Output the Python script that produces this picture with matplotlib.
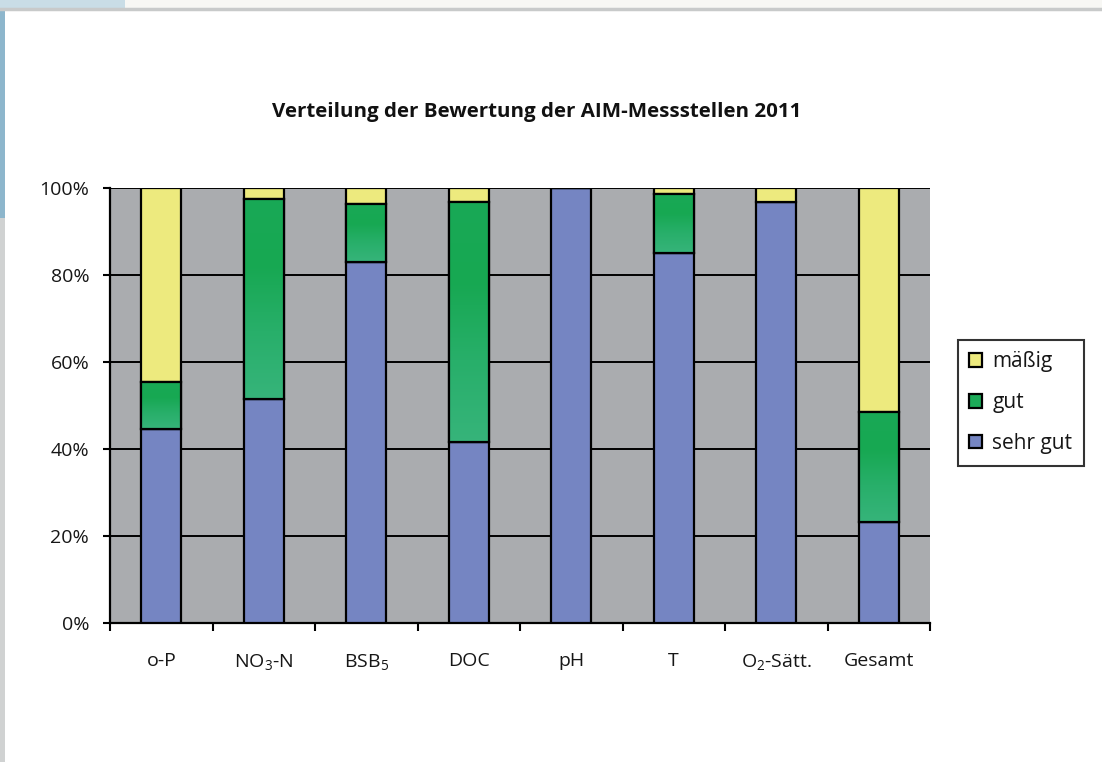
import numpy as np
import matplotlib
matplotlib.use("Agg")
import matplotlib.pyplot as plt
from matplotlib.patches import Rectangle
from matplotlib.colors import LinearSegmentedColormap

# Share of monitoring sites per rating class (percent)
categories = ["o-P", r"NO$_3$-N", r"BSB$_5$", "DOC", "pH", "T", r"O$_2$-Sätt.", "Gesamt"]
sehr_gut = [44.5, 51.5, 83.0, 41.5, 100.0, 85.0, 96.7, 23.3]
gut = [11.0, 46.0, 13.3, 55.3, 0.0, 13.7, 0.0, 25.2]
maessig = [44.5, 2.5, 3.7, 3.2, 0.0, 1.3, 3.3, 51.5]
series_names = ["sehr gut", "gut", "mäßig"]
y_ticks = [0, 20, 40, 60, 80, 100]
title = "Verteilung der Bewertung der AIM-Messstellen 2011"

col_blue = "#7585C2"
col_green = "#1CAA58"
col_yellow = "#EDEA7E"
plot_bg = "#AAACAF"
text_col = "#161616"

plt.rcParams["font.family"] = ["Open Sans", "DejaVu Sans"]
plt.rcParams["mathtext.fontset"] = "custom"
plt.rcParams["mathtext.rm"] = "Open Sans"
plt.rcParams["mathtext.it"] = "Open Sans"

fig = plt.figure(figsize=(11.02, 7.62), dpi=100)
fig.patch.set_facecolor("white")

# window chrome around the chart
fig.add_artist(Rectangle((0, 1 - 9 / 762), 1, 9 / 762, transform=fig.transFigure,
                         facecolor="#F7F7F4", edgecolor="none", zorder=0))
fig.add_artist(plt.Line2D([0, 1], [1 - 9 / 762] * 2, transform=fig.transFigure,
                          color="#C8CACA", lw=2.5))
fig.add_artist(Rectangle((0, 0), 5 / 1102, 1, transform=fig.transFigure,
                         facecolor="#D0D2D2", edgecolor="none"))
fig.add_artist(Rectangle((0, 1 - 218 / 762), 5 / 1102, 218 / 762, transform=fig.transFigure,
                         facecolor="#8DB6CC", edgecolor="none"))
fig.add_artist(Rectangle((0, 1 - 9 / 762), 125 / 1102, 9 / 762, transform=fig.transFigure,
                         facecolor="#C9DDE6", edgecolor="none"))

ax = fig.add_axes([110 / 1102, 1 - 623 / 762, 820 / 1102, 435 / 762])
ax.set_facecolor(plot_bg)

x = np.arange(len(categories))
w = 0.39
sg = np.array(sehr_gut)
g = np.array(gut)
m = np.array(maessig)

b1 = ax.bar(x, sg, w, color=col_blue, edgecolor="black", lw=1.6, zorder=3, label=series_names[0])
b2 = ax.bar(x, g, w, bottom=sg, color=col_green, edgecolor="black", lw=1.6, zorder=3,
            label=series_names[1])
b3 = ax.bar(x, m, w, bottom=sg + g, color=col_yellow, edgecolor="black", lw=1.6, zorder=3,
            label=series_names[2])

# vertical shading inside the green segments
green_cmap = LinearSegmentedColormap.from_list("g", ["#36B47A", "#28AF6A", "#17A852", "#19A956"])
grad = np.linspace(0, 1, 64).reshape(-1, 1)
for patch in b2.patches:
    h = patch.get_height()
    if h <= 0:
        continue
    x0 = patch.get_x()
    y0 = patch.get_y()
    im = ax.imshow(grad, cmap=green_cmap, aspect="auto", origin="lower",
                   extent=(x0, x0 + patch.get_width(), y0, y0 + h), zorder=3.5,
                   interpolation="bilinear")
    im.set_clip_path(patch)
    ax.add_patch(Rectangle((x0, y0), patch.get_width(), h, fill=False,
                           edgecolor="black", lw=1.6, zorder=4))

ax.set_xlim(-0.5, len(categories) - 0.5)
ax.set_ylim(0, 100)
ax.set_yticks(y_ticks)
ax.set_yticklabels([f"{t}%" for t in y_ticks])
for t in y_ticks[1:]:
    ax.axhline(t, color="black", lw=1.4, zorder=1)

ax.set_xticks(np.arange(len(categories) + 1) - 0.5)
ax.set_xticklabels([])
ax.set_xticks(x, minor=True)
ax.set_xticklabels(categories, minor=True)
ax.tick_params(axis="x", which="major", direction="out", length=6, width=1.5, color="black")
ax.tick_params(axis="x", which="minor", length=0, pad=21, labelsize=14, labelcolor=text_col)
ax.tick_params(axis="y", direction="out", length=5, width=1.5, pad=10, labelsize=14,
               labelcolor=text_col)

for side in ["top", "right"]:
    ax.spines[side].set_visible(False)
for side in ["left", "bottom"]:
    ax.spines[side].set_color("black")
    ax.spines[side].set_linewidth(1.6)

fig.text(537 / 1102, 1 - 112 / 762, title, ha="center", va="center",
         fontsize=14.75, fontweight="bold", color="#111111")

handles = [b3, b2, b1]
leg = fig.legend(handles, [series_names[2], series_names[1], series_names[0]],
                 loc="upper left", bbox_to_anchor=(958 / 1102, 1 - 340 / 762),
                 frameon=True, fancybox=False, edgecolor="black", fontsize=15,
                 handlelength=0.6, handleheight=0.6, handletextpad=0.5,
                 labelspacing=0.95, borderpad=0.55, borderaxespad=0)
leg.get_frame().set_linewidth(1.5)
for t in leg.get_texts():
    t.set_color(text_col)

fig.savefig("out.png", dpi=100, facecolor="white")
